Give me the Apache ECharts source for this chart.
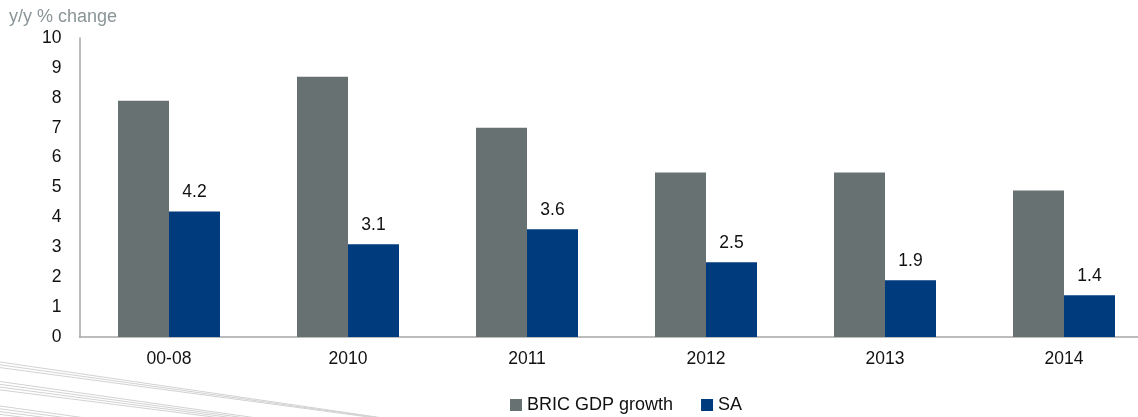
<!DOCTYPE html>
<html>
<head>
<meta charset="utf-8">
<script src="https://cdn.jsdelivr.net/npm/echarts@6/dist/echarts.min.js"></script>
<style>
  html, body { margin: 0; padding: 0; background: #fff; overflow: hidden; }
  #chart { width: 1160px; height: 417px; }
</style>
</head>
<body>
<div id="chart"></div>
<script>
// Growth comparison: BRIC GDP vs South Africa, y/y % change
var categories = ['00-08', '2010', '2011', '2012', '2013', '2014'];
var bricGrowth = [7.9, 8.7, 7.0, 5.5, 5.5, 4.9];
var saGrowth = [4.2, 3.1, 3.6, 2.5, 1.9, 1.4];
var yTicks = { min: 0, max: 10, interval: 1 };
var seriesNames = ['BRIC GDP growth', 'SA'];

var FONT = '"Liberation Sans", "DejaVu Sans", sans-serif';
var chart = echarts.init(document.getElementById('chart'), null, { renderer: 'canvas' });

// Decorative fan of thin lines in the lower-left corner
function swooshLines() {
  var bundles = [
    { y0: 362, n: 3, slope: 0.146, spread: 0.006 },
    { y0: 381.5, n: 4, slope: 0.142, spread: 0.005 },
    { y0: 406, n: 4, slope: 0.14, spread: 0.005 }
  ];
  var els = [];
  bundles.forEach(function (b) {
    for (var i = 0; i < b.n; i++) {
      var ys = b.y0 + i * 2.8;
      var k = b.slope - i * b.spread;
      var xEnd = 440;
      els.push({
        type: 'line',
        silent: true,
        shape: { x1: 0, y1: ys, x2: xEnd, y2: ys + k * xEnd },
        style: { stroke: '#d2d2d2', lineWidth: 1 }
      });
    }
  });
  return els;
}

var option = {
  animation: false,
  backgroundColor: '#fff',
  textStyle: { fontFamily: FONT },
  graphic: [
    {
      type: 'text',
      left: 9,
      top: 8,
      style: { text: 'y/y % change', fill: '#8a9597', font: '18px ' + FONT }
    }
  ].concat(swooshLines()),
  legend: {
    top: 396,
    left: 510,
    padding: 0,
    itemWidth: 12,
    itemHeight: 12,
    itemGap: 28,
    icon: 'rect',
    textStyle: { color: '#111', fontSize: 18, fontFamily: FONT },
    data: seriesNames
  },
  grid: {
    left: 79.5,
    top: 38,
    width: 1074,
    bottom: 80,
    containLabel: false
  },
  xAxis: {
    type: 'category',
    data: categories,
    axisLine: { show: true, lineStyle: { color: '#a6a6a6', width: 1.5 } },
    axisTick: { show: false },
    axisLabel: { color: '#111', fontSize: 17.5, margin: 13, fontFamily: FONT },
    splitLine: { show: false }
  },
  yAxis: {
    type: 'value',
    min: yTicks.min,
    max: yTicks.max,
    interval: yTicks.interval,
    axisLine: { show: true, lineStyle: { color: '#a6a6a6', width: 1.5 } },
    axisTick: { show: false },
    axisLabel: { color: '#111', fontSize: 17.5, margin: 18, fontFamily: FONT },
    splitLine: { show: false }
  },
  series: [
    {
      name: seriesNames[0],
      type: 'bar',
      data: bricGrowth,
      barWidth: 51,
      barGap: '0%',
      itemStyle: { color: '#677171' }
    },
    {
      name: seriesNames[1],
      type: 'bar',
      data: saGrowth,
      barWidth: 51,
      barGap: '0%',
      itemStyle: { color: '#003b7d' },
      label: {
        show: true,
        position: 'top',
        distance: 10,
        color: '#111',
        fontSize: 17.5,
        fontFamily: FONT,
        formatter: function (p) { return p.value.toFixed(1); }
      }
    }
  ]
};

chart.setOption(option);
</script>
</body>
</html>
